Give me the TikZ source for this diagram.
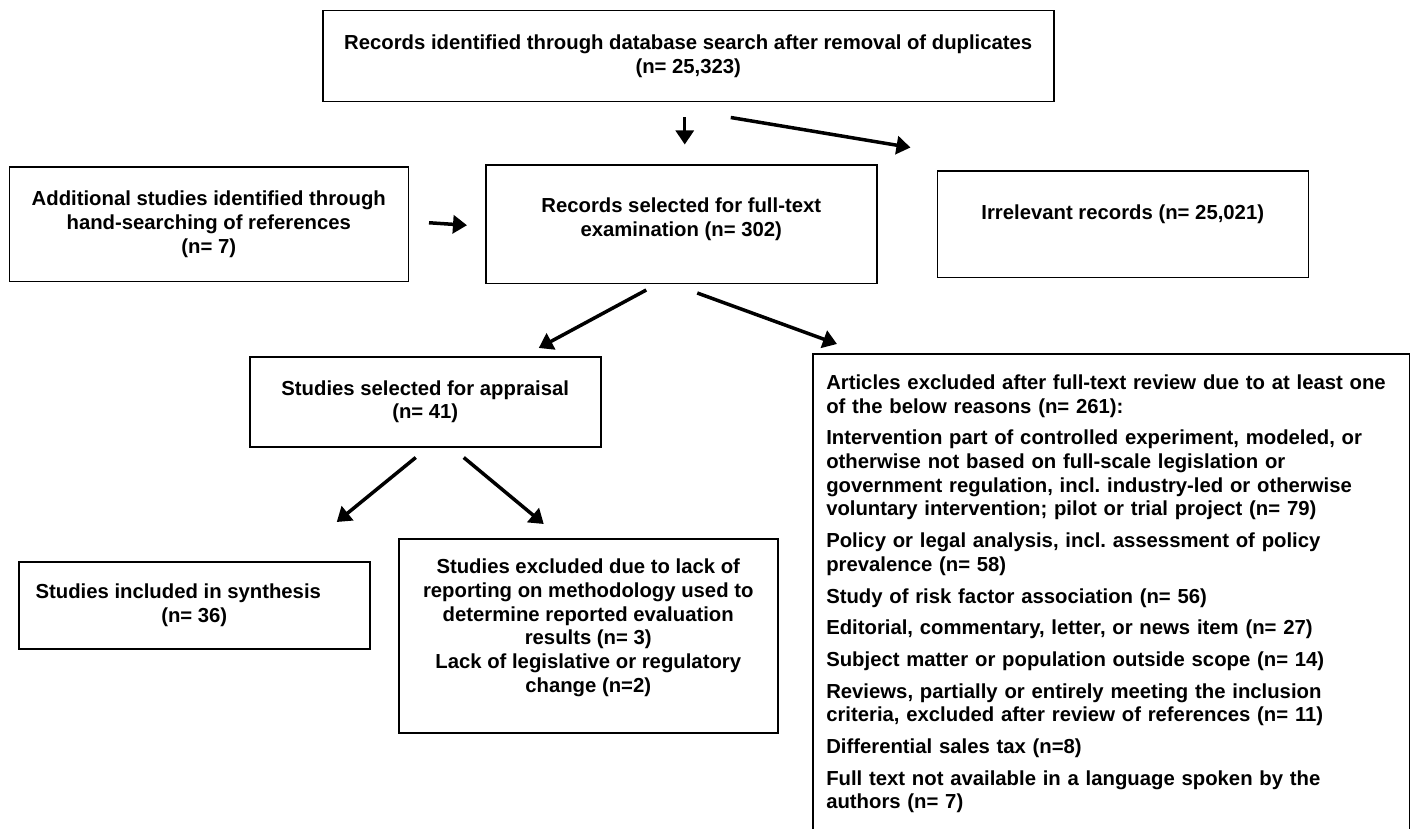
\documentclass[tikz,border=0pt]{standalone}
\usepackage{fontspec}
\setmainfont{Liberation Sans}
\frenchspacing
\usetikzlibrary{arrows.meta,calc,positioning}
\tikzset{
    flow/.style={-{Triangle[length=14pt,width=18pt]}, line width=3.5pt},
}

\begin{document}
\begin{tikzpicture}[x=1pt,y=-1pt,record/.style={draw, line width=1.5pt, align=center, inner sep=0pt, font=\fontsize{20.3}{23.7}\selectfont\bfseries}]
  \useasboundingbox (0,0) rectangle (1411,829);
  \clip (0,0) rectangle (1411,829);

  \node [record, minimum width=731pt, minimum height=91pt, anchor=north west] (identified) at (322,10)
    {Records identified through database search after removal of duplicates\\ (n= 25,323)};
  \node [record, minimum width=391pt, minimum height=118pt, text depth=14pt, anchor=north, below=62pt of identified.south, xshift=-7pt] (fulltext)
    {Records selected for full-text\\ examination (n= 302)};
  \node [record, minimum width=399pt, minimum height=114pt, left=76pt of fulltext] (additional)
    {Additional studies identified through\\ hand-searching of references\\ (n= 7)};
  \node [record, minimum width=371pt, minimum height=106pt, text depth=24pt, right=59pt of fulltext] (irrelevant)
    {Irrelevant records (n= 25,021)};

  \node [record, minimum width=351pt, minimum height=90pt, anchor=north west] (appraisal) at (249,356)
    {Studies selected for appraisal\\ (n= 41)};
  \node [record, minimum width=351pt, minimum height=87pt, anchor=north west] (included) at (18,561)
    {Studies included in synthesis\hspace*{32pt}\\ (n= 36)};
  \node [record, minimum width=379pt, minimum height=194pt, text depth=20pt, anchor=north west] (lackexcl) at (398,538)
    {Studies excluded due to lack of\\ reporting on methodology used to\\ determine reported evaluation\\ results (n= 3)\\ Lack of legislative or regulatory\\ change (n=2)};

  \node [record, draw=none, align=left, text width=570pt, inner xsep=12.5pt, inner ysep=20pt, anchor=north west] (reasons) at (813,354)
    {Articles excluded after full-text review due to at least one\\ of the below reasons (n= 261):\\[8pt]
     Intervention part of controlled experiment, modeled, or\\ otherwise not based on full-scale legislation or\\ government regulation, incl. industry-led or otherwise\\ voluntary intervention; pilot or trial project (n= 79)\\[8pt]
     Policy or legal analysis, incl. assessment of policy\\ prevalence (n= 58)\\[8pt]
     Study of risk factor association (n= 56)\\[8pt]
     Editorial, commentary, letter, or news item (n= 27)\\[8pt]
     Subject matter or population outside scope (n= 14)\\[8pt]
     Reviews, partially or entirely meeting the inclusion\\ criteria, excluded after review of references (n= 11)\\[8pt]
     Differential sales tax (n=8)\\[8pt]
     Full text not available in a language spoken by the\\ authors (n= 7)};
  \draw [line width=1.5pt] ($(reasons.south west)+(0,40)$) |- (reasons.north east) -- ($(reasons.south east)+(0,40)$);

  % FLECHAS
  \draw [flow, line width=2.8pt] ($(identified.south)+(-3.5,15)$) -- ($(fulltext.north)+(3.5,-20)$);
  \draw [flow] ($(identified.south)+(42.5,15)$) -- ($(irrelevant.north west)+(-26,-23)$);
  \draw [flow] ($(additional.east)+(20,-1.5)$) -- ($(fulltext.west)+(-18,1)$);
  \draw [flow] ($(fulltext.south)+(-35,6)$) -- ($(appraisal.north)+(113.5,-8)$);
  \draw [flow] ($(fulltext.south)+(16,9)$) -- ($(reasons.north west)+(24,-10)$);
  \draw [flow] ($(appraisal.south)+(-9.5,10)$) -- ($(included.north)+(142.5,-39)$);
  \draw [flow] ($(appraisal.south)+(38.5,10)$) -- ($(lackexcl.north)+(-44.5,-14)$);
\end{tikzpicture}
\end{document}
